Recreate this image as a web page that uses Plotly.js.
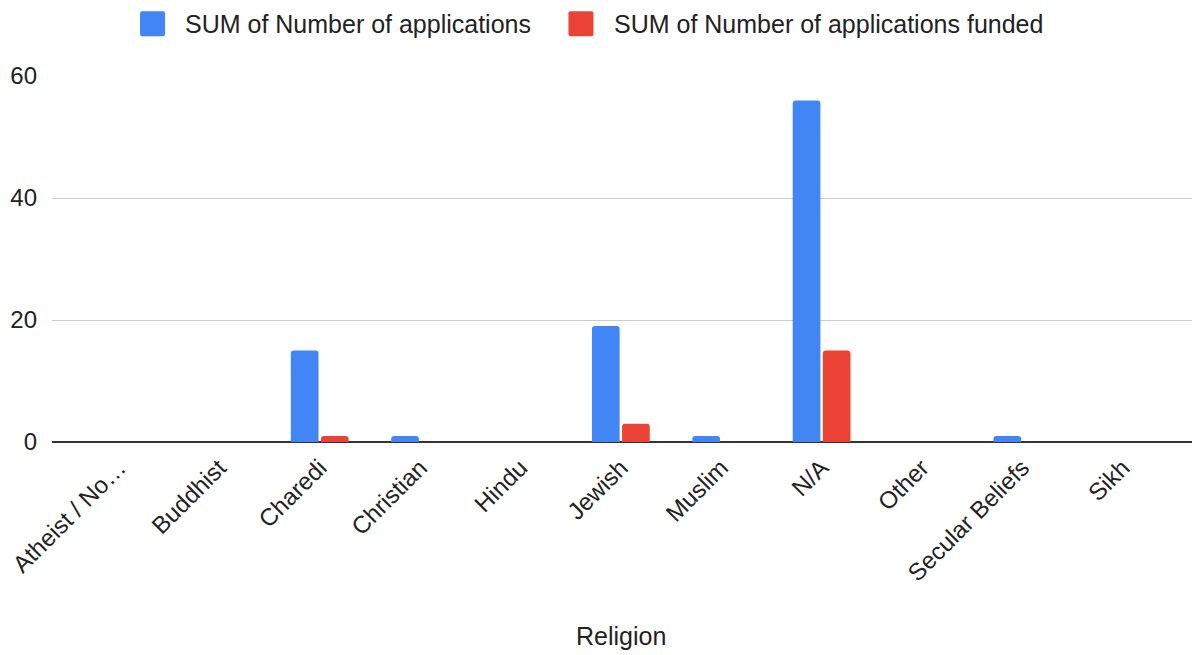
<!DOCTYPE html>
<html>
<head>
<meta charset="utf-8">
<script src="https://cdn.plot.ly/plotly-3.0.1.min.js"></script>
<style>
  html, body { margin: 0; padding: 0; background: #fff; }
  #chart { width: 1193px; height: 655px; }
</style>
</head>
<body>
<div id="chart"></div>
<script>
// Applications by religion
const religions = ["Atheist / No…", "Buddhist", "Charedi", "Christian", "Hindu", "Jewish",
                   "Muslim", "N/A", "Other", "Secular Beliefs", "Sikh"];
const applications = [0, 0, 15, 1, 0, 19, 1, 56, 0, 1, 0];
const applicationsFunded = [0, 0, 1, 0, 0, 3, 0, 15, 0, 0, 0];
const seriesNames = ["SUM of Number of applications", "SUM of Number of applications funded"];
const seriesColors = ["#4285f4", "#ea4335"];
const yTicks = [0, 20, 40, 60];

const font = "Liberation Sans, Arial, sans-serif";
const textColor = "#222222";

const traces = [
  {
    type: "bar",
    name: seriesNames[0],
    x: religions,
    y: applications,
    marker: { color: seriesColors[0] },
    hoverinfo: "x+y"
  },
  {
    type: "bar",
    name: seriesNames[1],
    x: religions,
    y: applicationsFunded,
    marker: { color: seriesColors[1] },
    hoverinfo: "x+y"
  }
];

// Legend row above the plot: rounded swatches plus labels
const legendSwatchX = [0.0882, 0.4640];
const legendTextX = [0.1149, 0.4912];
const legendY = 1.143;

const shapes = seriesColors.map((c, i) => ({
  type: "path",
  xref: "paper", yref: "paper",
  xsizemode: "pixel", ysizemode: "pixel",
  xanchor: legendSwatchX[i], yanchor: legendY,
  path: "M -10.5 -12.5 L 10.5 -12.5 Q 12.5 -12.5 12.5 -10.5 L 12.5 10.5 Q 12.5 12.5 10.5 12.5 L -10.5 12.5 Q -12.5 12.5 -12.5 10.5 L -12.5 -10.5 Q -12.5 -12.5 -10.5 -12.5 Z",
  fillcolor: c,
  line: { width: 0 }
}));

const annotations = seriesNames.map((n, i) => ({
  xref: "paper", yref: "paper",
  x: legendTextX[i], y: legendY,
  xanchor: "left", yanchor: "middle",
  text: n,
  showarrow: false,
  font: { family: font, size: 25, color: textColor }
}));

// Category axis title, centred under the tick labels
annotations.push({
  xref: "paper", yref: "paper",
  x: 0.499, y: -0.53,
  xanchor: "center", yanchor: "middle",
  text: "Religion",
  showarrow: false,
  font: { family: font, size: 25, color: textColor }
});

const layout = {
  width: 1193,
  height: 655,
  margin: { l: 52, r: 1, t: 76, b: 213 },
  paper_bgcolor: "#fff",
  plot_bgcolor: "#fff",
  font: { family: font, size: 24, color: textColor },
  barmode: "group",
  bargap: 0.4,
  bargroupgap: 0.08,
  barcornerradius: 3,
  showlegend: false,
  shapes: shapes,
  annotations: annotations,
  xaxis: {
    type: "category",
    range: [-0.667, 10.69],
    automargin: false,
    tickangle: -45,
    tickfont: { family: font, size: 24, color: textColor },
    showgrid: false,
    showline: false,
    zeroline: false,
    ticks: "",
    ticklabelstandoff: 6
  },
  yaxis: {
    range: [0, 60],
    automargin: false,
    tickvals: yTicks,
    ticktext: yTicks.map(String),
    tickfont: { family: font, size: 24, color: textColor },
    showgrid: true,
    gridcolor: "#cccccc",
    gridwidth: 1,
    zeroline: true,
    zerolinecolor: "#333333",
    zerolinewidth: 2,
    ticks: "",
    ticklabelstandoff: 14,
    fixedrange: true
  }
};

Plotly.newPlot("chart", traces, layout, { displayModeBar: false, staticPlot: true });
</script>
</body>
</html>
